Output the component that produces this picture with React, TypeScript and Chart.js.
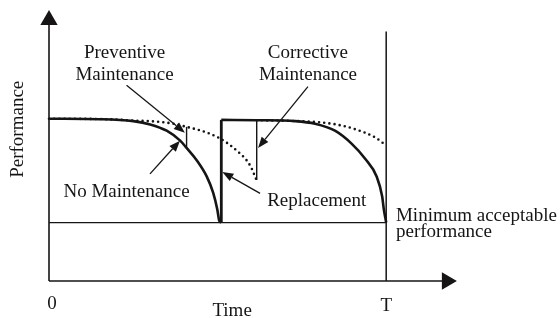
import React, { useEffect, useRef } from "react";
import { Chart, registerables } from "chart.js";

Chart.register(...registerables);

// ---- scale ranges (time units: 0..T, performance units) ----
const T_END = 100;
const MIN_PERF = 36;
const X_MAX = 121;
const Y_MAX = 167;

// ---- No maintenance (solid, first life) ----
const noMaintX = [0, 15.1, 25.0, 30.0, 34.9, 38.9, 40.8, 43.8, 46.8, 48.7, 49.9, 50.5, 51.1];
const noMaintY = [100, 99.7, 98.5, 96.5, 92.6, 86.5, 82.0, 74.4, 64.3, 54.3, 44.2, 37.1, 36];

// ---- Replacement (solid vertical) ----
const replaceX = [51.1, 51.1];
const replaceY = [36, 99.3];

// ---- Second life after replacement (solid) ----
const lifeTwoX = [51.1, 61.7, 73.0, 78.9, 84.8, 89.8, 93.7, 97.2, 98.8, 99.3, 100];
const lifeTwoY = [99.3, 99.1, 98.5, 96.9, 92.6, 84.5, 75.5, 64.3, 52.2, 44.2, 36];

// ---- With preventive maintenance (dotted) ----
const prevOneX = [0, 15.1, 24.9, 34.9, 40.8, 46.8, 50.1, 53.2, 56.2, 58.6, 60.1, 61.3, 61.6];
const prevOneY = [100, 99.8, 98.9, 97.6, 95.0, 91.5, 88.5, 84.5, 79.4, 74.4, 69.4, 63.4, 62.3];
const prevTwoX = [61.6, 73.0, 78.9, 84.8, 90.7, 96.7, 100];
const prevTwoY = [99.1, 98.6, 98.0, 96.6, 93.6, 88.5, 83.5];

// ---- Maintenance jumps (thin verticals) ----
const pmJumpX = [40.8, 40.8];
const pmJumpY = [82.0, 95.0];
const cmJumpX = [61.6, 61.6];
const cmJumpY = [62.3, 99.1];

// ---- Reference lines ----
const minLineX = [0, T_END];
const minLineY = [MIN_PERF, MIN_PERF];
const tLineX = [T_END, T_END];
const tLineY = [0, 153.7];
const yAxisX = [0, 0];
const yAxisY = [0, 159];
const xAxisX = [0, 117.5];
const xAxisY = [0, 0];
const arrowHeadX = [0, 118.0];
const arrowHeadY = [160.9, 0];
const arrowHeadRot = [0, 90];

// ---- Annotation arrows (from -> to, data units) ----
const annFromX = [23.0, 29.95, 76.8, 62.6];
const annFromY = [120.6, 66.0, 119.8, 54.0];
const annToX = [40.3, 38.85, 62.0, 51.4];
const annToY = [91.4, 86.5, 82.0, 67.2];

// ---- Text labels ----
const labelText = [
  "Preventive", "Maintenance", "Corrective", "Maintenance",
  "No Maintenance", "Replacement", "Minimum acceptable", "performance",
  "0", "Time", "T",
];
const labelX = [22.4, 22.4, 76.8, 76.8, 23.0, 79.4, 102.9, 102.9, 0.9, 54.3, 100];
const labelY = [137.7, 123.7, 137.7, 123.7, 51.9, 46.0, 36.9, 27.2, -17.5, -21.5, -18.2];
const labelAlign = ["center", "center", "center", "center", "center", "center", "left", "left", "center", "center", "center"];
const yTitle = "Performance";
const yTitleX = -7.7;
const yTitleY = 93.5;

const INK = "#161414";
const FONT = '19px "Liberation Serif", "Times New Roman", serif';

const pts = (xs: number[], ys: number[]) => xs.map((x, i) => ({ x, y: ys[i] }));

const annotPlugin = {
  id: "annot",
  afterDatasetsDraw(chart: any) {
    const { ctx } = chart;
    const sx = chart.scales.x;
    const sy = chart.scales.y;
    ctx.save();
    ctx.strokeStyle = INK;
    ctx.fillStyle = INK;
    ctx.lineWidth = 1.3;
    for (let i = 0; i < annFromX.length; i++) {
      const x0 = sx.getPixelForValue(annFromX[i]);
      const y0 = sy.getPixelForValue(annFromY[i]);
      const x1 = sx.getPixelForValue(annToX[i]);
      const y1 = sy.getPixelForValue(annToY[i]);
      const ang = Math.atan2(y1 - y0, x1 - x0);
      const len = 11;
      const hw = 4.3;
      const bx = x1 - Math.cos(ang) * len;
      const by = y1 - Math.sin(ang) * len;
      ctx.beginPath();
      ctx.moveTo(x0, y0);
      ctx.lineTo(bx, by);
      ctx.stroke();
      ctx.beginPath();
      ctx.moveTo(x1, y1);
      ctx.lineTo(bx + Math.sin(ang) * hw, by - Math.cos(ang) * hw);
      ctx.lineTo(bx - Math.sin(ang) * hw, by + Math.cos(ang) * hw);
      ctx.closePath();
      ctx.fill();
    }
    ctx.font = FONT;
    ctx.textBaseline = "alphabetic";
    for (let i = 0; i < labelText.length; i++) {
      ctx.textAlign = labelAlign[i];
      ctx.fillText(labelText[i], sx.getPixelForValue(labelX[i]), sy.getPixelForValue(labelY[i]));
    }
    ctx.translate(sx.getPixelForValue(yTitleX), sy.getPixelForValue(yTitleY));
    ctx.rotate(-Math.PI / 2);
    ctx.textAlign = "center";
    ctx.fillText(yTitle, 0, 0);
    ctx.restore();
  },
};

const lineDs = (data: any[], width: number, extra: any = {}) => ({
  data,
  showLine: true,
  borderColor: INK,
  backgroundColor: INK,
  borderWidth: width,
  pointRadius: 0,
  clip: false,
  ...extra,
});

export default function App() {
  const ref = useRef<HTMLCanvasElement>(null);
  useEffect(() => {
    if (!ref.current) return;
    const dotted = { borderDash: [0, 5.2], borderCapStyle: "round", cubicInterpolationMode: "monotone" };
    const chart = new Chart(ref.current, {
      type: "scatter",
      data: {
        datasets: [
          lineDs(pts(yAxisX, yAxisY), 1.6),
          lineDs(pts(xAxisX, xAxisY), 1.6),
          lineDs(pts(minLineX, minLineY), 1.4),
          lineDs(pts(tLineX, tLineY), 1.5),
          lineDs(pts(noMaintX, noMaintY), 2.6, { cubicInterpolationMode: "monotone" }),
          lineDs(pts(replaceX, replaceY), 2.8),
          lineDs(pts(lifeTwoX, lifeTwoY), 2.6, { cubicInterpolationMode: "monotone" }),
          lineDs(pts(prevOneX, prevOneY), 2.6, dotted),
          lineDs(pts(prevTwoX, prevTwoY), 2.6, dotted),
          lineDs(pts(pmJumpX, pmJumpY), 1.4),
          lineDs(pts(cmJumpX, cmJumpY), 1.4),
          {
            data: pts(arrowHeadX, arrowHeadY),
            showLine: false,
            pointStyle: "triangle",
            pointRadius: 10,
            rotation: arrowHeadRot,
            backgroundColor: INK,
            borderColor: INK,
            borderWidth: 0,
            clip: false,
          } as any,
        ],
      },
      options: {
        animation: false,
        responsive: false,
        devicePixelRatio: 1,
        events: [],
        layout: { padding: { left: 49, right: 103, top: 5, bottom: 37 } },
        plugins: { legend: { display: false }, tooltip: { enabled: false } },
        scales: {
          x: { type: "linear", min: 0, max: X_MAX, display: false },
          y: { type: "linear", min: 0, max: Y_MAX, display: false },
        },
      } as any,
      plugins: [annotPlugin],
    });
    return () => chart.destroy();
  }, []);
  return (
    <div style={{ position: "fixed", left: 0, top: 0, width: 560, height: 318, background: "#fff" }}>
      <canvas ref={ref} width={560} height={318} style={{ display: "block" }} />
    </div>
  );
}
